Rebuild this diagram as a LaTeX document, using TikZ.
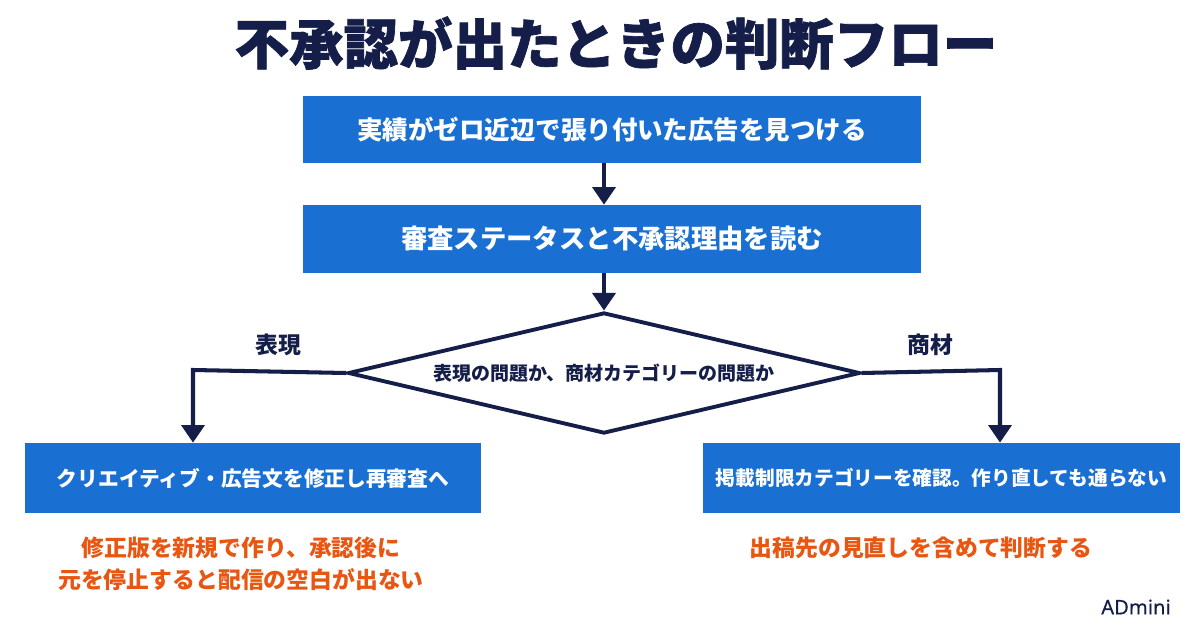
\documentclass[tikz,border=0pt]{standalone}
\usepackage{fontspec}
\setmainfont{Noto Sans CJK JP}
\newfontfamily\titlefont{Noto Sans CJK JP}[BoldFeatures={FakeBold=1.3}]
\newfontfamily\latinfont{Noto Sans}[UprightFeatures={FakeBold=0.4}]
\usetikzlibrary{shapes.geometric,arrows.meta,positioning,calc}
\definecolor{navy}{RGB}{20,30,72}
\definecolor{boxblue}{RGB}{26,111,210}
\definecolor{warn}{RGB}{232,86,18}
\tikzset{
  stepbox/.style={fill=boxblue, draw=none, text=white, font=\bfseries, inner sep=0pt, anchor=center},
  flow/.style={draw=navy, line width=2.3pt, -{Triangle[width=13pt,length=10pt]}},
  branchlabel/.style={text=navy, font=\bfseries\fontsize{13pt}{15pt}\selectfont},
  note/.style={text=warn, font=\bfseries\fontsize{13pt}{18.1pt}\selectfont, align=center},
}
\begin{document}
\begin{tikzpicture}
\useasboundingbox[fill=white] (0,0) rectangle (24,-12.56);
% title
\node[text=navy, font=\titlefont\bfseries\fontsize{31pt}{34pt}\selectfont] (title) at (12.32,-0.86) {不承認が出たときの判断フロー};
% boxes
\node[stepbox, minimum width=12.36cm, minimum height=1.34cm, font=\bfseries\fontsize{14.5pt}{17pt}\selectfont] (b1) at (12.24,-2.59) {実績がゼロ近辺で張り付いた広告を見つける};
\node[stepbox, minimum width=12.36cm, minimum height=1.36cm, font=\bfseries\fontsize{15pt}{17pt}\selectfont] (b2) at (12.24,-4.78) {審査ステータスと不承認理由を読む};
% diamond
\node[diamond, draw=navy, line width=2.2pt, fill=white, aspect=4.2, inner sep=0pt, minimum width=10.24cm, minimum height=2.42cm, text=navy, font=\bfseries\fontsize{10.8pt}{13pt}\selectfont] (dia) at (12.08,-7.46) {表現の問題か、商材カテゴリーの問題か};
% bottom boxes
\node[stepbox, minimum width=9.12cm, minimum height=1.40cm, font=\bfseries\fontsize{11.8pt}{14pt}\selectfont] (lb) at (5.06,-9.56) {クリエイティブ・広告文を修正し再審査へ};
\node[stepbox, minimum width=9.54cm, minimum height=1.40cm, font=\bfseries\fontsize{11.2pt}{14pt}\selectfont] (rb) at (18.83,-9.56) {掲載制限カテゴリーを確認。作り直しても通らない};
% connectors
\draw[flow] (b1.south -| dia.north) -- (b2.north -| dia.north);
\draw[flow] (b2.south -| dia.north) -- (dia.north);
\coordinate (lk) at (3.86,-7.40);
\coordinate (rk) at (20.00,-7.40);
\draw[flow] (dia.west) -- (lk) -- (lk |- lb.north);
\draw[flow] (dia.east) -- (rk) -- (rk |- rb.north);
% branch labels
\node[branchlabel] (l1) at (5.56,-6.90) {表現};
\node[branchlabel] (l2) at (18.60,-6.90) {商材};
% notes
\node[note] (n1) at (4.82,-11.28) {修正版を新規で作り、承認後に\\元を停止すると配信の空白が出ない};
\node[note] (n2) at (18.42,-10.96) {出稿先の見直しを含めて判断する};
% logo
\node[text=navy, font=\latinfont\fontsize{11.5pt}{13pt}\selectfont] (logo) at (22.72,-12.14) {ADmini};
\end{tikzpicture}
\end{document}
